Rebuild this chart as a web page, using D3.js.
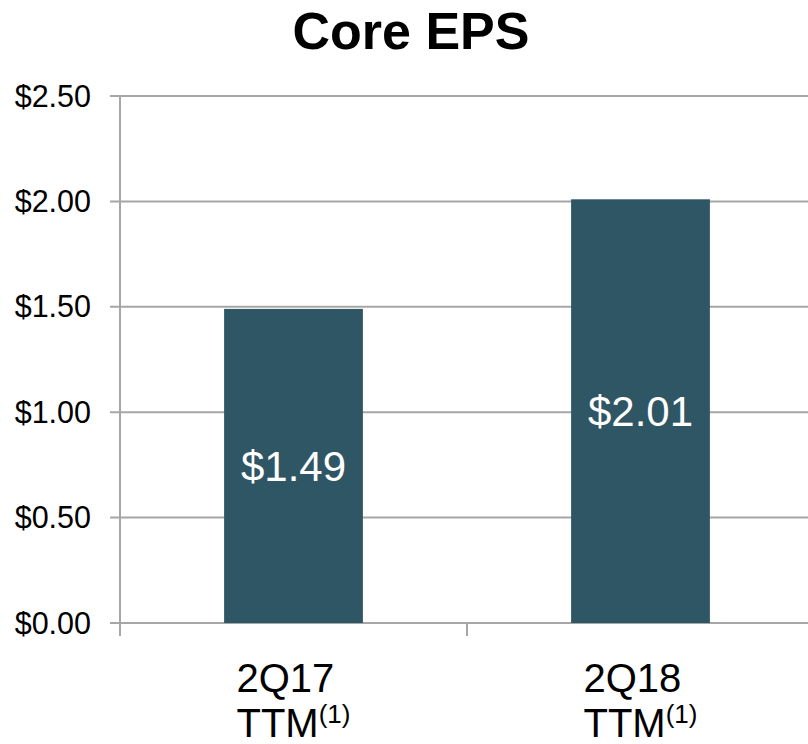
<!DOCTYPE html>
<html><head><meta charset="utf-8">
<script src="https://cdn.jsdelivr.net/npm/d3@7/dist/d3.min.js"></script>
<style>body{margin:0;background:#fff}svg{display:block}text{font-family:"Liberation Sans",Arial,sans-serif}</style>
</head><body>
<svg id="c" width="808" height="744"></svg>
<script>
const categories = ["2Q17", "2Q18"];
const values = [1.49, 2.01];
const valueLabels = ["$1.49", "$2.01"];
const yTicks = [0, 0.5, 1.0, 1.5, 2.0, 2.5];
const yTickLabels = ["$0.00", "$0.50", "$1.00", "$1.50", "$2.00", "$2.50"];
const title = "Core EPS";

const svg = d3.select("#c");
const mL = 120, mR = 814, mT = 96, mB = 623;
const x = d3.scaleBand().domain(categories).range([mL, mR]).paddingInner(0).paddingOuter(0);
const y = d3.scaleLinear().domain([0, 2.5]).range([mB, mT]);
const grid = "#a6a6a6";

svg.append("text").attr("x", 411).attr("y", 49).attr("text-anchor", "middle")
  .attr("font-size", 52).attr("font-weight", "bold").text(title);

svg.append("g").selectAll("line").data(yTicks).join("line")
  .attr("x1", 110).attr("x2", 808).attr("y1", d => y(d)).attr("y2", d => y(d))
  .attr("stroke", grid).attr("stroke-width", 2);

svg.append("line").attr("x1", mL).attr("x2", mL).attr("y1", mT).attr("y2", mB + 13)
  .attr("stroke", grid).attr("stroke-width", 2);

svg.append("g").selectAll("line").data(categories.slice(1)).join("line")
  .attr("x1", d => x(d)).attr("x2", d => x(d)).attr("y1", mB).attr("y2", mB + 13)
  .attr("stroke", grid).attr("stroke-width", 2);

svg.append("g").selectAll("text").data(yTicks).join("text")
  .attr("x", 91).attr("y", d => y(d)).attr("dy", "0.35em").attr("text-anchor", "end")
  .attr("font-size", 30.5).attr("fill", "#000").text((d, i) => yTickLabels[i]);

const bw = x.bandwidth() * 0.4;
svg.append("g").selectAll("rect").data(values).join("rect")
  .attr("x", (d, i) => x(categories[i]) + x.bandwidth() / 2 - bw / 2)
  .attr("width", bw)
  .attr("y", d => y(d)).attr("height", d => y(0) - y(d))
  .attr("fill", "#2f5664");

svg.append("g").selectAll("text").data(values).join("text")
  .attr("x", (d, i) => x(categories[i]) + x.bandwidth() / 2)
  .attr("y", d => (y(d) + y(0)) / 2).attr("dy", "0.35em").attr("text-anchor", "middle")
  .attr("font-size", 42).attr("fill", "#fff").text((d, i) => valueLabels[i]);

const cg = svg.append("g").selectAll("g").data(categories).join("g")
  .attr("transform", d => `translate(${x(d) + x.bandwidth() / 2 - 57},0)`);
cg.append("text").attr("x", 0).attr("y", 692).attr("font-size", 40).text(d => d);
const t2 = cg.append("text").attr("x", 0).attr("y", 737).attr("font-size", 40);
t2.append("tspan").text("TTM");
t2.append("tspan").attr("font-size", 26).attr("dy", -14).text("(1)");
</script>
</body></html>
